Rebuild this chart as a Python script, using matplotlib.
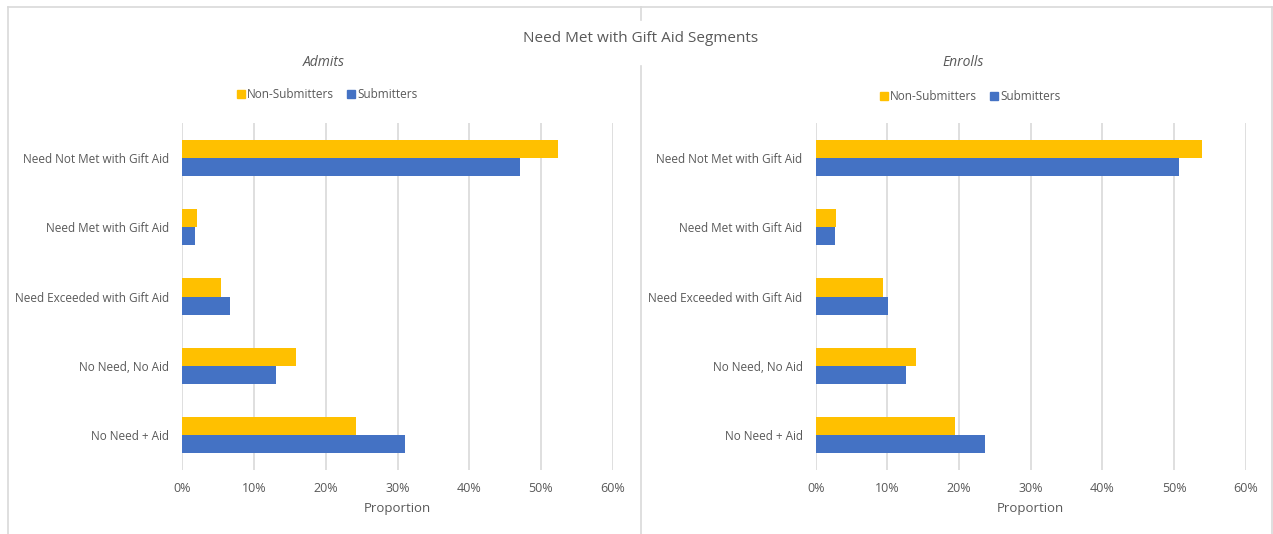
import matplotlib
matplotlib.use('Agg')
import matplotlib.pyplot as plt
from matplotlib.lines import Line2D
from matplotlib.ticker import PercentFormatter
import numpy as np

categories = ['Need Not Met with Gift Aid', 'Need Met with Gift Aid',
              'Need Exceeded with Gift Aid', 'No Need, No Aid', 'No Need + Aid']
series_names = ['Non-Submitters', 'Submitters']

admits_non_sub = [52.4, 2.1, 5.35, 15.85, 24.2]
admits_sub = [47.1, 1.8, 6.6, 13.1, 31.1]
enrolls_non_sub = [53.9, 2.9, 9.4, 14.0, 19.4]
enrolls_sub = [50.7, 2.65, 10.1, 12.6, 23.6]

x_ticks = [0, 10, 20, 30, 40, 50, 60]

YELLOW = '#FFC000'
BLUE = '#4472C4'
TEXT = '#595959'
GRID = '#D9D9D9'

plt.rcParams['font.family'] = ['Open Sans', 'DejaVu Sans']

fig = plt.figure(figsize=(12.73, 5.34), dpi=100)
W, H = 1273, 534


def fx(px):
    return px / W


def fy(py):
    return 1 - py / H


def draw_panel(ax, non_sub, sub, subtitle, sub_x, legend_y, label_x):
    y = np.arange(len(categories))
    h = 0.26
    ax.barh(y - h / 2, non_sub, height=h, color=YELLOW, zorder=3)
    ax.barh(y + h / 2, sub, height=h, color=BLUE, zorder=3)
    ax.set_ylim(len(categories) - 0.5, -0.5)
    ax.set_xlim(0, 60)
    ax.set_xticks(x_ticks)
    ax.xaxis.set_major_formatter(PercentFormatter(decimals=0))
    ax.set_yticks(y)
    ax.set_yticklabels(categories)
    ax.grid(axis='x', color=GRID, linewidth=1.2, zorder=0)
    for s in ax.spines.values():
        s.set_visible(False)
    ax.tick_params(axis='both', length=0, colors=TEXT)
    ax.tick_params(axis='x', pad=9, labelsize=9)
    ax.tick_params(axis='y', pad=9.5, labelsize=8.5)
    ax.set_xlabel('Proportion', color=TEXT, fontsize=9.5, labelpad=5)
    fig.text(fx(sub_x), fy(62), subtitle, ha='center', va='center',
             fontsize=10, style='italic', color=TEXT)
    handles = [Line2D([], [], marker='s', linestyle='none', markersize=6,
                      markerfacecolor=c, markeredgecolor=c)
               for c in (YELLOW, BLUE)]
    fig.legend(handles, series_names, loc='center',
               bbox_to_anchor=(fx(label_x), fy(legend_y)), ncol=2,
               frameon=False, fontsize=8.5, labelcolor=TEXT,
               handletextpad=0.0, columnspacing=1.0, handlelength=1.0)


ax1 = fig.add_axes([fx(182.3), fy(470), fx(612.7 - 182.3), (470 - 123) / H])
ax2 = fig.add_axes([fx(815.7), fy(470), fx(1245.7 - 815.7), (470 - 123) / H])

draw_panel(ax1, admits_non_sub, admits_sub, 'Admits', 324, 95, 326)
draw_panel(ax2, enrolls_non_sub, enrolls_sub, 'Enrolls', 963, 97, 969)

fig.text(fx(641), fy(38), 'Need Met with Gift Aid Segments', ha='center',
         va='center', fontsize=11, color=TEXT)

# chart frame and divider
border = '#D9D9D9'
fig.add_artist(Line2D([fx(7.5), fx(1271.5)], [fy(6.5), fy(6.5)], color=border, lw=1.2))
fig.add_artist(Line2D([fx(7.5), fx(7.5)], [fy(6.5), 0], color=border, lw=1.2))
fig.add_artist(Line2D([fx(1271.5), fx(1271.5)], [fy(6.5), 0], color=border, lw=1.2))
fig.add_artist(Line2D([fx(641), fx(641)], [fy(6.5), fy(20)], color=border, lw=1.2))
fig.add_artist(Line2D([fx(641), fx(641)], [fy(66), 0], color=border, lw=1.2))

fig.savefig('out.png', dpi=100, facecolor='white')
